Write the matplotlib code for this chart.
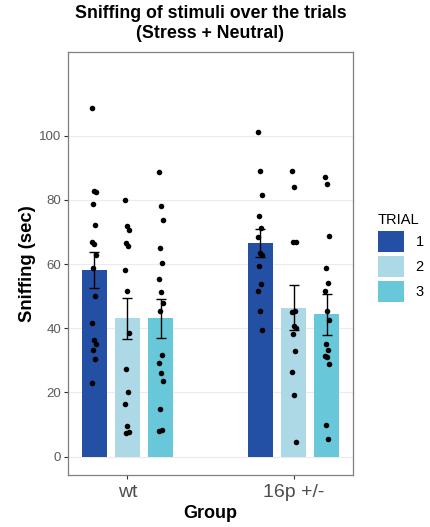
import numpy as np
import matplotlib
matplotlib.use("Agg")
import matplotlib.pyplot as plt
from matplotlib.patches import Patch

plt.rcParams['font.family'] = ['Liberation Sans', 'DejaVu Sans']

groups = ["wt", "16p +/-"]
trials = ["1", "2", "3"]
colors = ["#2350A5", "#ADD8E6", "#68C8DA"]

# bar means and standard errors [group][trial]
means = [[58.2, 43.1, 43.1], [66.6, 46.4, 44.3]]
ses = [[5.6, 6.4, 6.0], [4.4, 7.0, 6.3]]

# individual points [group][trial]
points = [
    [
        [108.8, 82.9, 82.6, 78.8, 72.3, 67.0, 66.3, 62.8, 58.7, 49.9, 41.7, 36.4, 35.2, 33.3, 30.5, 22.8],
        [80.1, 72.0, 70.7, 66.5, 65.5, 58.0, 51.6, 38.6, 27.4, 20.2, 16.5, 9.6, 7.7, 7.2],
        [88.8, 78.1, 73.8, 65.1, 60.4, 55.3, 51.2, 48.0, 45.4, 31.5, 29.1, 25.9, 23.6, 14.7, 8.2, 7.9],
    ],
    [
        [101.3, 88.9, 81.6, 75.1, 71.2, 68.4, 63.4, 62.8, 59.3, 53.9, 51.6, 45.4, 39.3],
        [88.9, 84.1, 67.0, 67.0, 45.4, 45.2, 40.8, 40.2, 38.3, 32.8, 26.4, 19.3, 4.6],
        [87.0, 84.8, 68.9, 58.7, 54.1, 51.6, 45.4, 42.7, 35.0, 33.3, 31.3, 31.0, 28.8, 9.8, 5.4],
    ],
]
title_lines = ["Sniffing of stimuli over the trials", "(Stress + Neutral)"]

fig = plt.figure(figsize=(4.30, 5.27), dpi=100)
ax = fig.add_axes([68/430, 1-475/527, (353-68)/430, (475-52)/527])

spacing = 0.2
width = 0.15
for gi, g in enumerate(groups):
    for ti in range(3):
        x = gi + 1 + (ti - 1) * spacing
        ax.bar(x, means[gi][ti], width=width, color=colors[ti], zorder=2)
        ax.errorbar(x, means[gi][ti], yerr=ses[gi][ti], color="black", lw=1.0,
                    capsize=3.5, capthick=1.0, zorder=4)
        pts = points[gi][ti]
        offs = np.array([((i * 7) % 5 - 2) * 0.006 for i in range(len(pts))])
        ax.scatter(x + offs, pts, s=16, color="black", zorder=5, linewidths=0)

ax.set_xlim(0.643, 2.357)
ax.set_ylim(-5.75, 126.1)
ax.set_xticks([1, 2])
ax.set_xticklabels(groups, fontsize=14, color="#4D4D4D")
ax.set_yticks([0, 20, 40, 60, 80, 100])
ax.tick_params(axis="y", labelsize=9.5, labelcolor="#5A5A5A", color="#333333", length=3, pad=2)
ax.tick_params(axis="x", color="#333333", length=3)
ax.yaxis.grid(True, color="#EBEBEB", lw=0.8, zorder=0)
ax.set_axisbelow(True)
for s in ax.spines.values():
    s.set_color("#7F7F7F")
    s.set_linewidth(0.9)

ax.set_ylabel("Sniffing (sec)", fontsize=13.2, fontweight="bold", va="center")
ax.yaxis.set_label_coords((27 - 68) / 285, 0.5)
ax.set_xlabel("Group", fontsize=13, fontweight="bold", va="center")
ax.xaxis.set_label_coords(0.5, (475 - 513) / 423)
fig.text(210.5/430, 1-14/527, title_lines[0], fontsize=12.8, fontweight="bold",
         ha="center", va="center")
fig.text(210.5/430, 1-33/527, title_lines[1], fontsize=12.8, fontweight="bold",
         ha="center", va="center")

handles = [Patch(facecolor=c, edgecolor="none") for c in colors]
leg = fig.legend(handles, trials, title="TRIAL", loc="upper left",
                 bbox_to_anchor=(372/430, 1-207/527), frameon=False,
                 fontsize=10.5, title_fontsize=10.5, handlelength=1.8, handleheight=1.8,
                 handletextpad=0.8, labelspacing=0.3, borderaxespad=0)
leg._legend_box.align = "left"

fig.savefig("out.png", dpi=100)
